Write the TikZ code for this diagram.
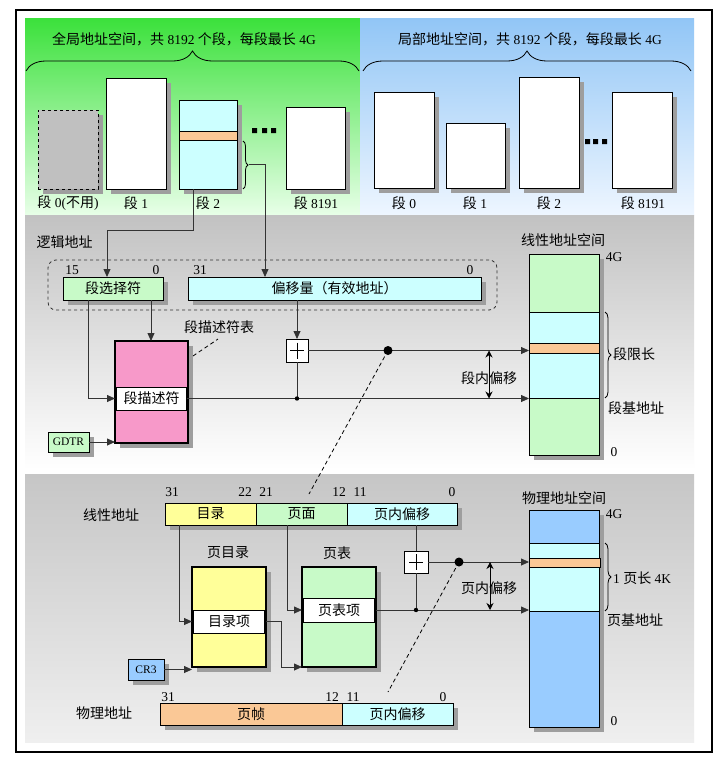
\documentclass[tikz,border=0pt]{standalone}
\usepackage{fontspec}
\setmainfont{Liberation Serif}
\newfontfamily\cjk{Noto Sans CJK SC}
\usetikzlibrary{arrows.meta,shadows,decorations.pathreplacing,calc}
\definecolor{lgreen}{HTML}{C8FAC8}
\definecolor{lcyan}{HTML}{CCFFFF}
\definecolor{pinkf}{HTML}{F799C9}
\definecolor{yel}{HTML}{FFFF99}
\definecolor{orng}{HTML}{FAC896}
\definecolor{blu}{HTML}{99CCFF}
\definecolor{segray}{HTML}{C0C0C0}
\definecolor{gtop}{HTML}{3CE13C}
\definecolor{gbot}{HTML}{E8FFE8}
\definecolor{btop}{HTML}{92C6F6}
\definecolor{bbot}{HTML}{EEF6FF}
\definecolor{mtop}{HTML}{C2C2C2}
\definecolor{ptop}{HTML}{C6C6C6}
\definecolor{pbot}{HTML}{EFEFEF}
\newcommand\C[1]{{\cjk\fontsize{14}{16}\selectfont #1}}
\newcommand\mybox[7]{\node[rect,#6,minimum width={(#4-#2)*1pt},minimum height={(#5-#3)*1pt}] (#1) at (#2,#3) {#7};}
\newcommand\plussign[1]{\draw[line width=0.6pt] ($(#1.center)+(-7,0)$) -- ($(#1.center)+(7,0)$) ($(#1.center)+(0,-8)$) -- ($(#1.center)+(0,8)$);}
\begin{document}
\begin{tikzpicture}[x=1pt,y=-1pt,font=\fontsize{13.5}{15}\selectfont,
  rect/.style={draw, inner sep=0pt, outer sep=0pt, anchor=north west, line width=0.8pt},
  shd/.style={drop shadow={shadow xshift=5pt,shadow yshift=-5pt,fill=black!38,opacity=1}},
  arr/.style={-{Triangle[length=8pt,width=7pt]}, line width=0.8pt, draw=black!80},
  darr/.style={{Stealth[length=7pt,width=7pt]}-{Stealth[length=7pt,width=7pt]}, line width=0.8pt, draw=black},
  ln/.style={line width=0.8pt, draw=black!80},
  dsh/.style={line width=0.8pt, dash pattern=on 4pt off 3pt},
  brc/.style={decorate, line width=0.8pt},
  dotsq/.style={fill=black}]
\useasboundingbox (0,0) rectangle (723,760);
\fill[white] (0,0) rectangle (723,760);
% panels
\shade[top color=gtop, bottom color=gbot] (25,19) rectangle (360,215);
\shade[top color=btop, bottom color=bbot] (360,19) rectangle (694,215);
\shade[top color=mtop, bottom color=white] (25,215) rectangle (694,470);
\shade[top color=ptop, bottom color=pbot] (25,474) rectangle (694,742);
\draw[line width=1.5pt] (16,10) rectangle (712,752);

% ---- global space
\node (gtitle) at (184,39) {\C{全局地址空间，共} 8192 \C{个段，每段最长} 4G};
\draw[brc, decoration={brace, amplitude=20pt}] (26,71) -- (359,71);
\mybox{g0}{38}{110}{98}{189}{shd, dashed, fill=segray}{}
\mybox{g1}{106}{78}{166}{189}{shd, fill=white}{}
\mybox{g2}{179}{100}{237}{189}{shd, fill=lcyan}{}
\mybox{g2b}{179}{131}{237}{140}{fill=orng}{}
\fill[dotsq] (252,128) rectangle ++(5,5) (262,128) rectangle ++(5,5) (271,128) rectangle ++(5,5);
\mybox{g8191}{286}{107}{345}{189}{shd, fill=white}{}
\node (lg0) at (68,203) {\C{段} 0(\C{不用})};
\node (lg1) at (136,203) {\C{段} 1};
\node (lg2) at (208,203) {\C{段} 2};
\node (lg8191) at (316,203) {\C{段} 8191};
\draw[brc, decoration={brace, amplitude=5pt}] (243,141) -- (243,189);
\coordinate (g2tip) at (249,164);

% ---- local space
\node (ltitle) at (530,39) {\C{局部地址空间，共} 8192 \C{个段，每段最长} 4G};
\draw[brc, decoration={brace, amplitude=20pt}] (363,71) -- (691,71);
\mybox{l0}{374}{92}{434}{188}{shd, fill=white}{}
\mybox{l1}{446}{123}{505}{188}{shd, fill=white}{}
\mybox{l2}{519}{77}{579}{188}{shd, fill=white}{}
\fill[dotsq] (585,139) rectangle ++(5,5) (593,139) rectangle ++(5,5) (602,139) rectangle ++(5,5);
\mybox{l8191}{612}{92}{672}{188}{shd, fill=white}{}
\node (ll0) at (404,203) {\C{段} 0};
\node (ll1) at (475,203) {\C{段} 1};
\node (ll2) at (549,203) {\C{段} 2};
\node (ll8191) at (643,203) {\C{段} 8191};

% ---- segmentation
\node[anchor=west] (logi) at (33,242) {\C{逻辑地址}};
\mybox{la}{48}{260}{497}{310}{dashed, rounded corners=8pt, draw=black!80}{}
\node (b15) at (72,270) {15};
\node (b0a) at (156,270) {0};
\node (b31) at (200,270) {31};
\node (b0b) at (470,270) {0};
\mybox{sel}{63}{277}{163}{300}{shd, fill=lgreen}{\C{段选择符}}
\mybox{off}{188}{277}{481}{300}{shd, fill=lcyan}{\C{偏移量（有效地址）}}
\mybox{dt}{115}{341}{188}{443}{shd, fill=pinkf, line width=2.5pt}{}
\mybox{desc}{116.3}{387}{186.7}{410}{fill=white}{\C{段描述符}}
\node (dtl) at (219,327) {\C{段描述符表}};
\mybox{gdtr}{48}{432}{89}{452}{shd, fill=lgreen}{\fontsize{11.5}{13}\selectfont GDTR}
\mybox{plus1}{286}{339}{308}{362}{fill=white}{}
\plussign{plus1}
\mybox{lcol}{529}{254}{599}{455}{shd, fill=lgreen}{}
\mybox{lseg}{529}{312}{599}{398}{fill=lcyan}{}
\mybox{lband}{529}{343}{599}{353}{fill=orng}{}
\node (lsp) at (563,240) {\C{线性地址空间}};
\node (l4g) at (614,257) {4G};
\node (l0z) at (614,452) {0};
\draw[brc, decoration={brace, amplitude=6pt}] (605,312) -- (605,398);
\node[anchor=west, inner sep=1pt] (llim) at (612,354) {\C{段限长}};
\node[anchor=west, inner sep=1pt] (lbase) at (607,408) {\C{段基地址}};
\coordinate (dot1) at (388,350.5);
\coordinate (oa) at (489,0);
\node (soff) at (489,378) {\C{段内偏移}};

\draw[arr] ($(g2.south west)+(14,0)$) -- ++(0,41) -| ($(sel.north west)+(44,0)$);
\draw[ln] (g2tip) -- (265,164);
\draw[arr] (265,164) -- ($(off.north west)+(77,0)$);
\draw[arr] ($(sel.south west)+(88,0)$) -- ($(dt.north west)+(36,0)$);
\draw[arr] ($(sel.south west)+(25,0)$) |- (dt.west |- desc.west);
\draw[arr] (gdtr.east) -- (dt.west |- gdtr.east);
\draw[arr] (plus1.north |- off.south) -- (plus1.north);
\draw[ln] (plus1.east) -- (dot1);
\draw[arr] (dot1) -- (lcol.west |- dot1);
\fill (dot1) circle (4.5pt);
\draw[arr] (desc.east) -- (lcol.west |- desc.east);
\draw[ln] (plus1.south) -- (plus1.south |- desc.east);
\fill (plus1.south |- desc.east) circle (2.2pt);
\draw[darr] (oa |- dot1) -- (oa |- desc.east);
\draw[dsh] ($(dt.north east)+(5,15)$) -- ($(dtl.south)+(-1,2)$);
\coordinate (dend1) at (309,494);
\draw[dsh] (dot1) -- (dend1);

% ---- paging
\node (c31) at (172,492) {31};
\node (c22) at (245,492) {22};
\node (c21) at (266,492) {21};
\node (c12) at (339,492) {12};
\node (c11) at (360,492) {11};
\node (c0) at (452,492) {0};
\node (linl) at (111,515) {\C{线性地址}};
\mybox{ldir}{165}{503}{256}{525}{shd, fill=yel}{\C{目录}}
\mybox{lpage}{256}{503}{347}{525}{shd, fill=lgreen}{\C{页面}}
\mybox{loff}{347}{503}{457}{525}{shd, fill=lcyan}{\C{页内偏移}}
\node (pdl) at (228,553) {\C{页目录}};
\node (ptl) at (337,553) {\C{页表}};
\mybox{pd}{192}{567}{266}{667}{shd, fill=yel, line width=2.5pt}{}
\mybox{pde}{193.3}{610}{264.7}{633}{fill=white}{\C{目录项}}
\mybox{pt}{302}{567}{376}{667}{shd, fill=lgreen, line width=2.5pt}{}
\mybox{pte}{303.3}{598}{374.7}{622}{fill=white}{\C{页表项}}
\mybox{cr3}{128}{659}{164}{680}{shd, fill=blu}{\fontsize{11.5}{13}\selectfont CR3}
\mybox{plus2}{404}{551}{428}{573}{fill=white}{}
\plussign{plus2}
\mybox{pcol}{529}{510}{599}{727}{shd, fill=blu}{}
\mybox{pseg}{529}{543}{599}{611}{fill=lcyan}{}
\mybox{pband}{529}{558}{600}{567}{fill=orng}{}
\node (psp) at (564,498) {\C{物理地址空间}};
\node (p4g) at (614,514) {4G};
\node (p0z) at (614,721) {0};
\draw[brc, decoration={brace, amplitude=6pt}] (605,543) -- (605,611);
\node[anchor=west, inner sep=1pt] (plen) at (612,578) {1 \C{页长} 4K};
\node[anchor=west, inner sep=1pt] (pbase) at (606,620) {\C{页基地址}};
\node (phyl) at (104,713) {\C{物理地址}};
\node (d31) at (168,697) {31};
\node (d12) at (332,697) {12};
\node (d11) at (353,697) {11};
\node (d0) at (443,697) {0};
\mybox{pframe}{160}{703}{342}{725}{shd, fill=orng}{\C{页帧}}
\mybox{poff}{342}{703}{453}{725}{shd, fill=lcyan}{\C{页内偏移}}
\coordinate (dot2) at (459,562);
\coordinate (ob) at (490,0);
\node (poffl) at (489,588) {\C{页内偏移}};

\draw[arr] ($(ldir.south west)+(14,0)$) |- (pd.west |- pde.west);
\draw[arr] ($(lpage.south west)+(31,0)$) |- (pt.west |- pte.west);
\draw[arr] (pd.east |- pde.east) -- ++(15,0) |- (pt.south west);
\draw[arr] (cr3.east) -- (pd.west |- cr3.east);
\draw[ln] (plus2.north |- loff.south) -- (plus2.north);
\draw[ln] (plus2.east) -- (dot2);
\draw[arr] (dot2) -- (pcol.west |- dot2);
\fill (dot2) circle (4.5pt);
\draw[arr] (pt.east |- pte.east) -- (pcol.west |- pte.east);
\draw[ln] (plus2.south) -- (plus2.south |- pte.east);
\fill (plus2.south |- pte.east) circle (2.2pt);
\draw[darr] (ob |- dot2) -- (ob |- pte.east);
\coordinate (dend2) at (388,692);
\draw[dsh] (dot2) -- (dend2);
\end{tikzpicture}
\end{document}
